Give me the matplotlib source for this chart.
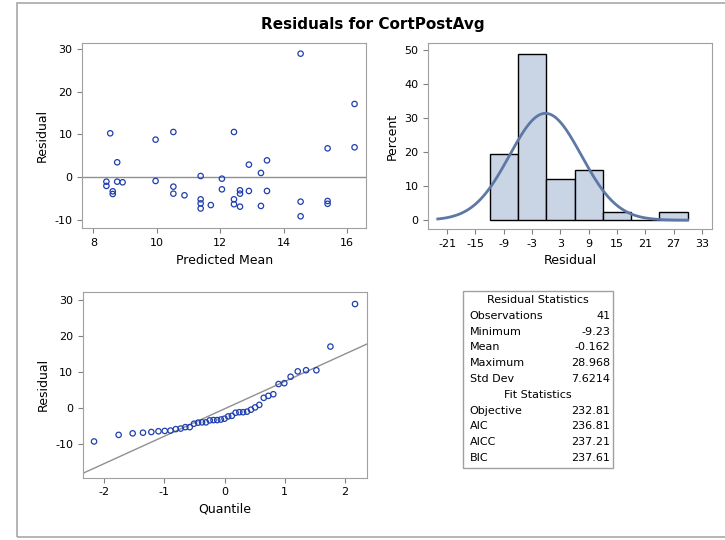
#residual diagnostics panel: residual vs predicted, histogram, QQ plot, stats table
import numpy as np
import matplotlib as mpl
import matplotlib.pyplot as plt
from matplotlib.patches import Rectangle
from statistics import NormalDist

mpl.rcParams['font.family'] = ['DejaVu Sans']
mpl.rcParams['axes.unicode_minus'] = False
mpl.rcParams['axes.edgecolor'] = '#a0a0a0'
mpl.rcParams['xtick.color'] = '#808080'
mpl.rcParams['ytick.color'] = '#808080'
mpl.rcParams['xtick.labelcolor'] = 'black'
mpl.rcParams['ytick.labelcolor'] = 'black'
mpl.rcParams['xtick.labelsize'] = 8
mpl.rcParams['ytick.labelsize'] = 8
mpl.rcParams['axes.labelsize'] = 9

#%% data
pred_mean = [14.53, 16.23, 8.53, 10.52, 12.43, 9.96, 15.38, 16.23, 8.75, 13.47,
             12.90, 13.28, 11.38, 12.05, 8.41, 8.41, 8.75, 8.92, 9.96, 10.52,
             12.05, 12.62, 12.90, 13.47, 8.61, 8.61, 10.52, 10.87, 12.62, 12.43,
             11.38, 11.38, 12.43, 11.70, 12.62, 13.28, 11.38, 14.53, 15.38, 15.38,
             14.53]
resid = [28.97, 17.15, 10.26, 10.57, 10.57, 8.77, 6.73, 6.97, 3.45, 3.90,
         2.90, 0.94, 0.23, -0.40, -1.10, -2.10, -1.10, -1.25, -0.94, -2.27,
         -2.90, -3.13, -3.29, -3.29, -3.37, -4.00, -3.92, -4.30, -3.92, -5.25,
         -5.25, -6.20, -6.40, -6.60, -6.97, -6.80, -7.40, -5.80, -5.64, -6.30,
         -9.23]

res_labels = ["Observations", "Minimum", "Mean", "Maximum", "Std Dev"]
res_values = ["41", "-9.23", "-0.162", "28.968", "7.6214"]
fit_labels = ["Objective", "AIC", "AICC", "BIC"]
fit_values = ["232.81", "236.81", "237.21", "237.61"]

res_mu = -0.162
res_sd = 7.6214
bin_edges = np.arange(-12, 31, 6)

mark_col = '#1f3fae'
fill_col = '#c9d4e4'
curve_col = '#5d78a5'

fig = plt.figure(figsize=(7.25, 5.4), dpi=100)
fig.patches.append(Rectangle((0.0234, 0.0061), 1.0, 0.9878, transform=fig.transFigure,
                             fill=False, ec='#a8a8a8', lw=1.2))
fig.text(0.514, 0.954, "Residuals for CortPostAvg", ha='center', va='center',
         fontsize=11, fontweight='bold')

#%% residual vs predicted
ax1 = fig.add_axes([0.1135, 0.5772, 0.3913, 0.3426])
ax1.axhline(0, color='#909090', lw=1, zorder=1)
ax1.scatter(pred_mean, resid, s=15, facecolors='none', edgecolors=mark_col, lw=0.9, zorder=2)
ax1.set_xlim(7.65, 16.59)
ax1.set_ylim(-12.06, 31.4)
ax1.set_xticks(np.arange(8, 17, 2))
ax1.set_yticks(np.arange(-10, 31, 10))
ax1.set_xlabel("Predicted Mean")
ax1.set_ylabel("Residual")

#%% histogram with normal curve
ax2 = fig.add_axes([0.5908, 0.5759, 0.3909, 0.3439])
counts, _ = np.histogram(resid, bins=bin_edges)
pct = 100.0 * counts / len(resid)
ax2.bar(bin_edges[:-1], pct, width=6, align='edge', color=fill_col, edgecolor='black', lw=1)
xc = np.linspace(-23, 30, 300)
yc = 100.0 * 6 * np.array([NormalDist(res_mu, res_sd).pdf(v) for v in xc])
ax2.plot(xc, yc, color=curve_col, lw=2)
ax2.set_xlim(-25, 35.1)
ax2.set_ylim(-2.6, 52)
ax2.set_xticks(np.arange(-21, 34, 6))
ax2.set_yticks(np.arange(0, 51, 10))
ax2.set_xlabel("Residual")
ax2.set_ylabel("Percent")

#%% normal quantile plot
ax3 = fig.add_axes([0.1141, 0.1154, 0.3917, 0.3444])
n = len(resid)
sorted_res = np.sort(resid)
qq = [NormalDist().inv_cdf((i + 1 - 0.375) / (n + 0.25)) for i in range(n)]
qx = np.array([-2.36, 2.37])
ax3.plot(qx, res_mu + res_sd * qx, color='#909090', lw=1, zorder=1)
ax3.scatter(qq, sorted_res, s=15, facecolors='none', edgecolors=mark_col, lw=0.9, zorder=2)
ax3.set_xlim(-2.354, 2.36)
ax3.set_ylim(-19.3, 32.4)
ax3.set_xticks(np.arange(-2, 3, 1))
ax3.set_yticks(np.arange(-10, 31, 10))
ax3.set_xlabel("Quantile")
ax3.set_ylabel("Residual")

#%% statistics table
tx0, tx1 = 0.6386, 0.8455
ty_top, ty_bot = 0.4602, 0.1333
fig.patches.append(Rectangle((tx0, ty_bot), tx1 - tx0, ty_top - ty_bot, transform=fig.transFigure,
                             fill=False, ec='#a0a0a0', lw=1))
row_h = 15.8 / 540
y = 1 - 300 / 540
fig.text((tx0 + tx1) / 2, y, "Residual Statistics", ha='center', va='center', fontsize=8)
for lab, val in zip(res_labels, res_values):
    y -= row_h
    fig.text(tx0 + 0.009, y, lab, ha='left', va='center', fontsize=8)
    fig.text(tx1 - 0.004, y, val, ha='right', va='center', fontsize=8)
y -= row_h
fig.text((tx0 + tx1) / 2, y, "Fit Statistics", ha='center', va='center', fontsize=8)
for lab, val in zip(fit_labels, fit_values):
    y -= row_h
    fig.text(tx0 + 0.009, y, lab, ha='left', va='center', fontsize=8)
    fig.text(tx1 - 0.004, y, val, ha='right', va='center', fontsize=8)

plt.savefig("out.png", dpi=100)
